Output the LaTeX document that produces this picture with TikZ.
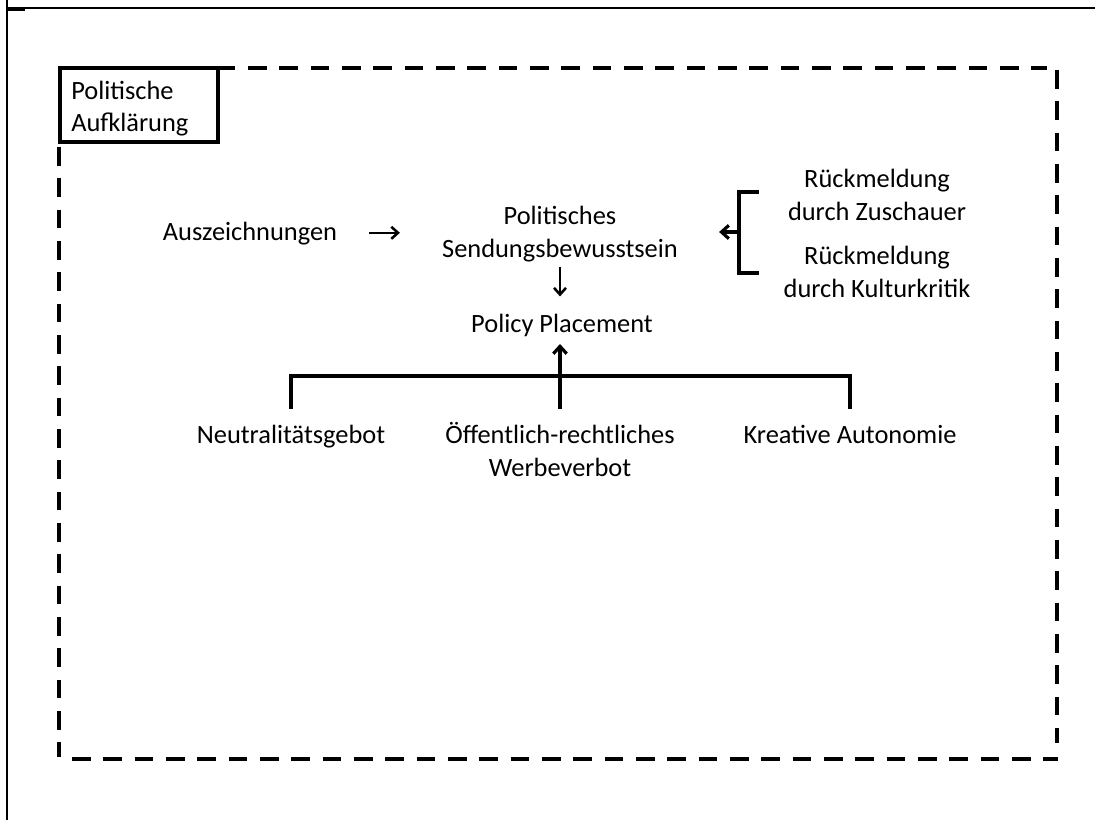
\documentclass[tikz,border=0pt]{standalone}
\usepackage{fontspec}
\setmainfont{Carlito}
\usetikzlibrary{arrows.meta,calc}
\begin{document}
\begin{tikzpicture}[x=0.75pt,y=-0.75pt,
  lbl/.style={font=\fontsize{19.8pt}{24.5pt}\selectfont, inner sep=0pt, align=center, anchor=base},
  conn/.style={line width=2.6pt},
  arr/.style={line width=2.6pt, -{Straight Barb[length=5.5pt,width=10pt,line width=2.4pt]}},
  arrthin/.style={line width=1.9pt, -{Straight Barb[length=5pt,width=9pt,line width=1.9pt]}},
  frameside/.style={line width=3.4pt, dash pattern=on 13.9pt off 9.6pt},
  pabox/.style={draw, line width=3pt, fill=white},
  border/.style={line width=1.1pt},
]
\useasboundingbox (0,0) rectangle (1095,820);

% page rules
\draw[border] (7,0) -- (7,820);
\draw[border] (7,8) -- (1095,8);
\draw[line width=1.6pt] (7,9.5) -- (25,9.5);

% dashed frame, one side at a time
\draw[frameside] (60,68) -- (1047,68);
\draw[frameside] (1057,70) -- (1057,743);
\draw[frameside] (72,759) -- (1058,759);
\draw[frameside] (59,147) -- (59,757);

% title box (multi-line nodes sit on the baseline of their last line)
\draw[pabox] (60,68) rectangle (218,142);
\node[lbl, align=left, anchor=base west] (pa) at (71,132) {Politische\\Aufklärung};

% labels
\node[lbl] (ausz) at (250,240) {Auszeichnungen};
\node[lbl] (pol) at (560,257) {Politisches\\Sendungsbewusstsein};
\node[lbl] (pp) at (562,332) {Policy Placement};
\node[lbl] (rz) at (877,220) {Rückmeldung\\durch Zuschauer};
\node[lbl] (rk) at (877,297) {Rückmeldung\\durch Kulturkritik};
\node[lbl] (neu) at (291,443) {Neutralitätsgebot};
\node[lbl] (oer) at (560,476) {Öffentlich-rechtliches\\Werbeverbot};
\node[lbl] (kre) at (850,443) {Kreative Autonomie};

% arrows into the central chain
\draw[arrthin, shorten <=24pt, shorten >=31.5pt]
  ([yshift=3pt]ausz.mid east) -- ([yshift=3pt]ausz.mid east -| pol.west);
\draw[arrthin, shorten <=3.75pt, shorten >=12.75pt]
  (pol.south) -- (pol.south |- pp.north);

% feedback bracket
\coordinate (bt) at (759,192);
\coordinate (bb) at (759,273);
\coordinate (bm) at (739,232);
\draw[conn] (bt) -- (bt -| bm) -- (bb -| bm) -- (bb);
\draw[arr, shorten >=30.75pt] (bm) -- (bm -| pol.east);

% tree of constraints
\coordinate (bar) at (560,376);
\draw[conn, shorten <=11.6pt, shorten >=11.3pt]
  (neu.north) -- (neu.north |- bar) -- (kre.north |- bar) -- (kre.north);
\draw[arr, shorten <=9.75pt, shorten >=5.6pt]
  (oer.north) -- (oer.north |- pp.south);
\end{tikzpicture}
\end{document}
